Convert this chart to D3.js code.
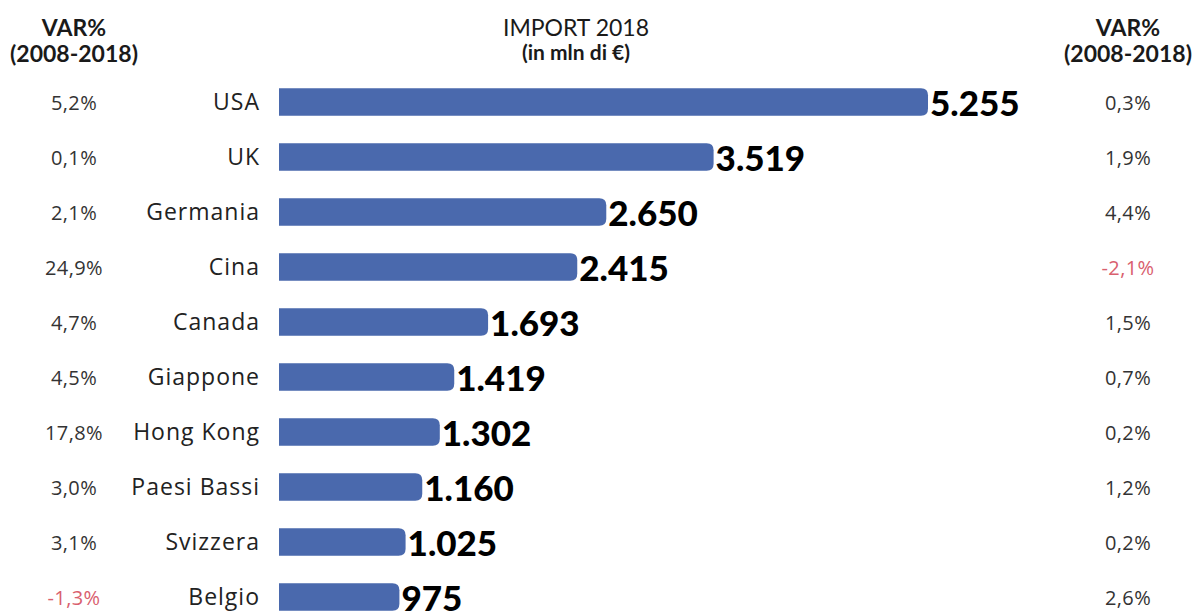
<!DOCTYPE html>
<html>
<head>
<meta charset="utf-8">
<script src="https://cdn.jsdelivr.net/npm/d3@7"></script>
<style>
  body { margin: 0; background: #fff; }
</style>
</head>
<body>
<div id="chart"></div>
<script>
var countries = ["USA", "UK", "Germania", "Cina", "Canada", "Giappone", "Hong Kong", "Paesi Bassi", "Svizzera", "Belgio"];
var import2018 = [5255, 3519, 2650, 2415, 1693, 1419, 1302, 1160, 1025, 975];
var varLeft = [5.2, 0.1, 2.1, 24.9, 4.7, 4.5, 17.8, 3.0, 3.1, -1.3];
var varRight = [0.3, 1.9, 4.4, -2.1, 1.5, 0.7, 0.2, 1.2, 0.2, 2.6];

var width = 1193, height = 615;
var barColor = "#4a69ad", negColor = "#d9606e";

var svg = d3.select("#chart").append("svg")
	.attr("width", width)
	.attr("height", height);

var y = d3.scaleBand()
	.domain(countries)
	.range([74.5, 624.5])
	.paddingInner(0.5)
	.paddingOuter(0.25);

var x = d3.scaleLinear()
	.domain([0, 5255])
	.range([279, 928]);

var fmtPct = function(v) { return v.toFixed(1).replace(".", ",") + "%"; };
var fmtNum = d3.formatLocale({ decimal: ",", thousands: ".", grouping: [3], currency: ["", "€"] }).format(",d");

// headers
var headers = [
	{ x: 74, l1: "VAR%", l2: "(2008-2018)" },
	{ x: 576, l1: "IMPORT 2018", l2: "(in mln di €)" },
	{ x: 1128, l1: "VAR%", l2: "(2008-2018)" }
];
headers.forEach(function(h, i) {
	svg.append("text")
		.attr("x", h.x).attr("y", 36)
		.attr("text-anchor", "middle")
		.style("font-family", "Lato, sans-serif")
		.style("font-weight", i == 1 ? "400" : "700")
		.style("font-size", "23px")
		.style("fill", "#1a1a1a")
		.text(h.l1);
	svg.append("text")
		.attr("x", h.x).attr("y", i == 1 ? 60 : 62)
		.attr("text-anchor", "middle")
		.style("font-family", "Lato, sans-serif")
		.style("font-weight", "700")
		.style("font-size", i == 1 ? "21px" : "23px")
		.style("fill", "#1a1a1a")
		.text(h.l2);
});

var rows = svg.selectAll("g.row")
	.data(countries)
	.enter().append("g")
	.attr("class", "row");

var r = 7;
rows.append("path")
	.attr("d", function(d, i) {
		var x0 = x(0), x1 = x(import2018[i]), y0 = y(d), h = y.bandwidth();
		return "M" + x0 + "," + y0 +
			"H" + (x1 - r) +
			"Q" + x1 + "," + y0 + " " + x1 + "," + (y0 + r) +
			"V" + (y0 + h - r) +
			"Q" + x1 + "," + (y0 + h) + " " + (x1 - r) + "," + (y0 + h) +
			"H" + x0 + "Z";
	})
	.style("fill", barColor);

rows.append("text")
	.attr("x", function(d, i) { return x(import2018[i]) + 2; })
	.attr("y", function(d) { return y(d) + y.bandwidth() / 2 + 14; })
	.style("font-family", "Lato, sans-serif")
	.style("font-weight", "900")
	.style("font-size", "35px")
	.style("fill", "#000")
	.text(function(d, i) { return fmtNum(import2018[i]); });

rows.append("text")
	.attr("x", 260)
	.attr("y", function(d) { return y(d) + y.bandwidth() / 2 + 8; })
	.attr("text-anchor", "end")
	.style("font-family", "'Open Sans', sans-serif")
	.style("font-weight", "400")
	.style("font-size", "23px")
	.style("letter-spacing", "1px")
	.style("fill", "#222")
	.text(function(d) { return d; });

rows.append("text")
	.attr("x", 74)
	.attr("y", function(d) { return y(d) + y.bandwidth() / 2 + 8; })
	.attr("text-anchor", "middle")
	.style("font-family", "'Open Sans', sans-serif")
	.style("font-weight", "400")
	.style("font-size", "20px")
	.style("letter-spacing", "0.4px")
	.style("fill", function(d, i) { return varLeft[i] < 0 ? negColor : "#333"; })
	.text(function(d, i) { return fmtPct(varLeft[i]); });

rows.append("text")
	.attr("x", 1128)
	.attr("y", function(d) { return y(d) + y.bandwidth() / 2 + 8; })
	.attr("text-anchor", "middle")
	.style("font-family", "'Open Sans', sans-serif")
	.style("font-weight", "400")
	.style("font-size", "20px")
	.style("letter-spacing", "0.4px")
	.style("fill", function(d, i) { return varRight[i] < 0 ? negColor : "#333"; })
	.text(function(d, i) { return fmtPct(varRight[i]); });
</script>
</body>
</html>
